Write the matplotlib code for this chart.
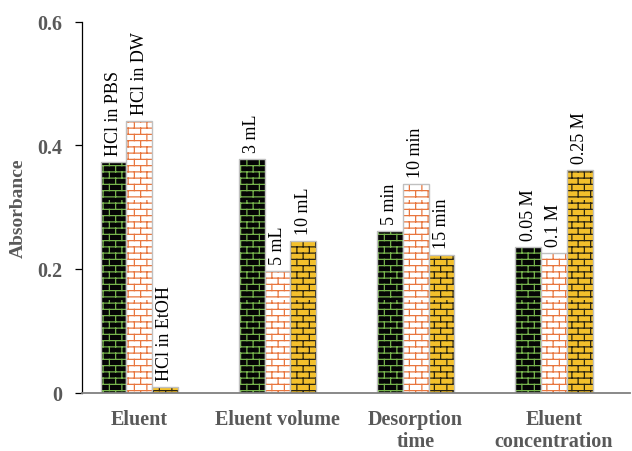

# -*- coding: utf-8 -*-
import warnings
import numpy as np
import matplotlib
matplotlib.use('Agg')
import matplotlib.pyplot as plt
import matplotlib.hatch as mhatch
from matplotlib.path import Path

warnings.filterwarnings('ignore')

# 数据
groups = ['Eluent', 'Eluent volume', 'Desorption\ntime', 'Eluent\nconcentration']
series1 = [0.373, 0.378, 0.262, 0.235]
series2 = [0.440, 0.196, 0.337, 0.226]
series3 = [0.009, 0.245, 0.223, 0.360]
labels1 = ['HCl in PBS', '3 mL', '5 min', '0.05 M']
labels2 = ['HCl in DW', '5 mL', '10 min', '0.1 M']
labels3 = ['HCl in EtOH', '10 mL', '15 min', '0.25 M']


class BrickHatch(mhatch.HatchPatternBase):
    """砖块填充图案, 用 'b' 触发"""
    def __init__(self, hatch, density):
        self.rows = 16 if 'b' in hatch else 0
        self.cols = 8
        self.num_vertices = self.rows * 2 + self.rows * self.cols * 2

    def set_vertices_and_codes(self, vertices, codes):
        n, m = self.rows, self.cols
        k = 0
        for i in range(n):
            y0 = (i + 0.5) / n
            y1 = (i + 1.5) / n
            vertices[k] = (0.0, y0)
            vertices[k + 1] = (1.0, y0)
            codes[k] = Path.MOVETO
            codes[k + 1] = Path.LINETO
            k += 2
            for j in range(m):
                x = (j + 0.25 + 0.5 * (i % 2)) / m
                vertices[k] = (x, y0)
                vertices[k + 1] = (x, min(y1, 1.0))
                codes[k] = Path.MOVETO
                codes[k + 1] = Path.LINETO
                k += 2


mhatch._hatch_types.append(BrickHatch)

plt.rcParams['hatch.linewidth'] = 0.9
plt.rcParams['font.family'] = ['Liberation Serif', 'DejaVu Serif']

fig = plt.figure(figsize=(6.32, 4.52), dpi=100)
ax = fig.add_axes([82 / 632, 58.5 / 452, 548 / 632, 370.8 / 452])

x = np.arange(len(groups))
w = 0.186
styles = [
    (series1, labels1, -w, '#050505', '#76b34c'),
    (series2, labels2, 0, '#ffffff', '#e8763e'),
    (series3, labels3, w, '#f3c02c', '#2a2410'),
]

for vals, labs, off, face, mortar in styles:
    ax.bar(x + off, vals, w, color=face, edgecolor=mortar, linewidth=0, hatch='b')
    ax.bar(x + off, vals, w, fill=False, edgecolor='#c0c0c0', linewidth=1.0)
    for xi, v, t in zip(x + off, vals, labs):
        ax.annotate(t, xy=(xi, v), xytext=(0, 5), textcoords='offset points',
                    rotation=90, ha='center', va='bottom', fontsize=13, color='black')

ax.set_xlim(-0.413, 3.55)
ax.set_ylim(0, 0.6)
ax.set_yticks([0, 0.2, 0.4, 0.6])
ax.set_yticklabels(['0', '0.2', '0.4', '0.6'])
ax.set_xticks(x)
ax.set_xticklabels(groups, linespacing=1.15)

ax.spines['right'].set_color('none')
ax.spines['top'].set_color('none')
ax.spines['bottom'].set_color('#808080')
ax.spines['bottom'].set_linewidth(1.3)
ax.spines['left'].set_color('black')
ax.spines['left'].set_linewidth(0.9)

ax.tick_params(axis='y', direction='out', length=5, width=0.9, pad=9,
               labelsize=14.5, labelcolor='#595959')
ax.tick_params(axis='x', length=0, pad=12, labelsize=14.5, labelcolor='#595959')
for lab in ax.get_xticklabels() + ax.get_yticklabels():
    lab.set_fontweight('bold')

ax.set_ylabel('Absorbance', fontsize=14, fontweight='bold', color='#595959', labelpad=8)

fig.savefig('out.png', dpi=100)
